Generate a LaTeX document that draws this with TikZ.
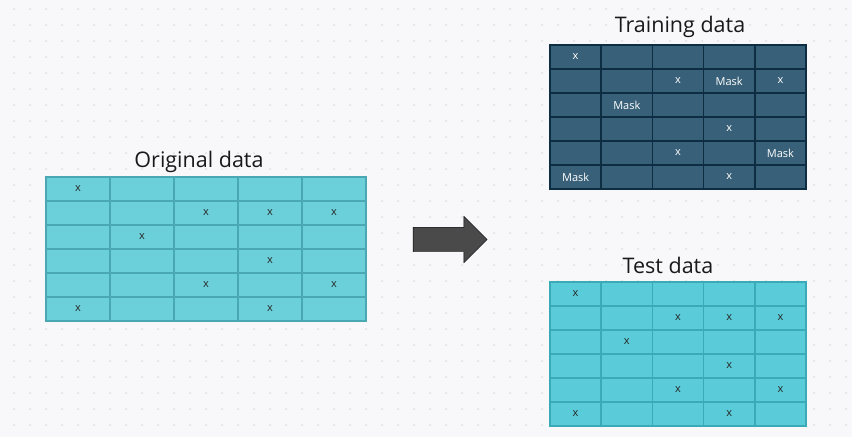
\documentclass[tikz,border=0pt]{standalone}
\usepackage{fontspec}
\setmainfont{Open Sans}
\usetikzlibrary{shapes.arrows}

\definecolor{paper}{RGB}{248,248,250}
\definecolor{paperdot}{RGB}{222,222,226}
\definecolor{origfill}{RGB}{108,208,219}
\definecolor{origline}{RGB}{74,168,178}
\definecolor{trainfill}{RGB}{56,96,120}
\definecolor{trainline}{RGB}{13,45,66}
\definecolor{testfill}{RGB}{90,203,216}
\definecolor{testline}{RGB}{58,170,182}
\definecolor{arrowgray}{RGB}{74,74,74}

\begin{document}
\begin{tikzpicture}[x=1pt,y=-1pt,
    cell/.style={draw,line width=1.5pt,inner sep=0pt,minimum height=24pt},
    origcell/.style={cell,fill=origfill,draw=origline,minimum width=64pt},
    traincell/.style={cell,fill=trainfill,draw=trainline,minimum width=51.2pt},
    testcell/.style={cell,fill=testfill,draw=testline,minimum width=51.2pt},
    cellmark/.style={font=\fontsize{11}{12}\selectfont,text=black!85},
    whitemark/.style={cellmark,text=white},
    title/.style={anchor=base,font=\fontsize{21.5}{24}\selectfont,text=black!90}]

    % Hintergrund mit Punktraster
    \useasboundingbox[fill=paper] (0,0) rectangle (852,437);
    \foreach \dx in {14,30,...,846}
      \foreach \dy in {9,25,...,425}
        \fill[paperdot] (\dx,\dy) circle (1pt);

    % Original data
    \node[title] (origtitle) at (199,167) {Original data};
    \foreach \r in {1,...,6}
      \foreach \c in {1,...,5}
        \node[origcell] (orig-\r-\c) at (14+64*\c,165+24*\r) {};
    \foreach \r/\c in {1/1,2/3,2/4,2/5,3/2,4/4,5/3,5/5,6/1,6/4}
      \node[cellmark] (origx-\r-\c) at (orig-\r-\c) {x};

    % Pfeil
    \node[single arrow,draw=black,fill=arrowgray,inner xsep=0pt,inner ysep=12pt,
          minimum height=74pt,minimum width=46pt,
          single arrow head extend=11pt,single arrow head indent=0pt]
          (split) at (444,239.5) {};

    % Training data
    \node[title] (traintitle) at (680,32) {Training data};
    \foreach \r in {1,...,6}
      \foreach \c in {1,...,5}
        \node[traincell] (train-\r-\c) at (524.4+51.2*\c,33+24*\r) {};
    \foreach \r/\c in {1/1,2/3,2/5,4/4,5/3,6/4}
      \node[whitemark] (trainx-\r-\c) at (train-\r-\c) {x};
    \foreach \r/\c in {2/4,3/2,5/5,6/1}
      \node[whitemark] (trainmask-\r-\c) at (train-\r-\c) {Mask};

    % Test data
    \node[title] (testtitle) at (668,273) {Test data};
    \foreach \r in {1,...,6}
      \foreach \c in {1,...,5}
        \node[testcell] (test-\r-\c) at (524.4+51.2*\c,270+24*\r) {};
    \foreach \r/\c in {1/1,2/3,2/4,2/5,3/2,4/4,5/3,5/5,6/1,6/4}
      \node[cellmark] (testx-\r-\c) at (test-\r-\c) {x};

\end{tikzpicture}
\end{document}
